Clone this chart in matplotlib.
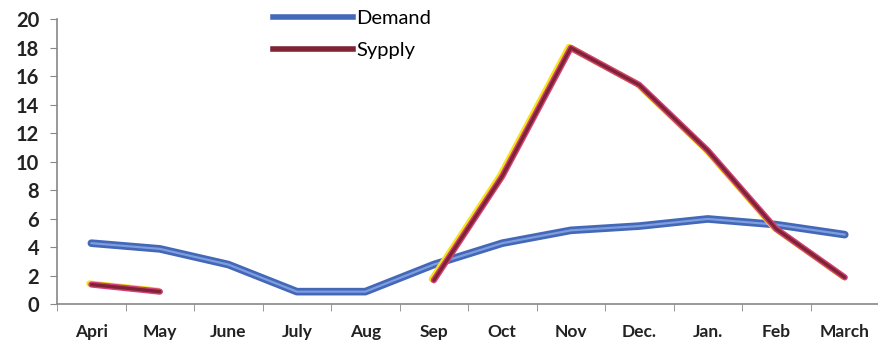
import matplotlib
matplotlib.use("Agg")
import matplotlib.pyplot as plt
import matplotlib.transforms as mtransforms
from matplotlib.lines import Line2D
import numpy as np

months = ["Apri", "May", "June", "July", "Aug", "Sep", "Oct", "Nov",
          "Dec.", "Jan.", "Feb", "March"]
demand = [4.3, 3.9, 2.8, 0.9, 0.9, 2.8, 4.3, 5.2, 5.5, 6.0, 5.6, 4.9]
supply = [1.4, 0.9, None, None, None, 1.7, 9.0, 18.0, 15.4, 10.8, 5.3, 1.9]
yticks = [0, 2, 4, 6, 8, 10, 12, 14, 16, 18, 20]

plt.rcParams["font.family"] = ["Lato", "DejaVu Sans"]

x = np.arange(len(months))
sup = np.array([np.nan if v is None else v for v in supply], dtype=float)

fig = plt.figure(figsize=(8.79, 3.52), dpi=100)
ax = fig.add_axes([0.065, 0.135, 0.935, 0.81])

# demand: dark blue band with a lighter core
ax.plot(x, demand, color="#4468b8", lw=5.5, solid_capstyle="round",
        solid_joinstyle="round", zorder=3)
ax.plot(x, demand, color="#7d9de0", lw=1.6, solid_capstyle="round",
        zorder=3.1)

# supply: yellow fringe offset up-left, pink rim, maroon core
shift = mtransforms.offset_copy(ax.transData, fig=fig, x=-2, y=1, units="dots")
ax.plot(x, sup, color="#f4e41c", lw=4.5, solid_capstyle="round",
        transform=shift, zorder=4)
ax.plot(x, sup, color="#d2407a", lw=4.5, solid_capstyle="round",
        solid_joinstyle="round", zorder=4.1)
ax.plot(x, sup, color="#7e2434", lw=2.4, solid_capstyle="round",
        solid_joinstyle="round", zorder=4.2)

ax.set_xlim(-0.5, len(months) - 0.5)
ax.set_ylim(0, 20)
ax.set_yticks(yticks)
ax.set_xticks(x)
ax.set_xticklabels(months)
ax.set_xticks(np.arange(len(months) + 1) - 0.5, minor=True)
ax.tick_params(axis="x", which="major", length=0, pad=14, labelsize=12.5)
ax.tick_params(axis="x", which="minor", length=5, color="#888888")
ax.tick_params(axis="y", length=5, color="#888888", labelsize=14.5, pad=8)
for lab in ax.get_xticklabels() + ax.get_yticklabels():
    lab.set_fontweight("bold")
    lab.set_color("#222222")

for s in ["top", "right"]:
    ax.spines[s].set_visible(False)
for s in ["left", "bottom"]:
    ax.spines[s].set_color("#888888")
    ax.spines[s].set_linewidth(1.2)

# legend drawn from proxy lines
h1 = Line2D([], [], color="#4468b8", lw=4)
h2 = Line2D([], [], color="#7e2434", lw=4)
leg = ax.legend([h1, h2], ["Demand", "Sypply"], loc="upper left",
                bbox_to_anchor=(0.24, 1.095), frameon=False, handlelength=4.0,
                handletextpad=0.15, labelspacing=0.7, prop={"size": 14.5})

fig.savefig("out.png", dpi=100)
